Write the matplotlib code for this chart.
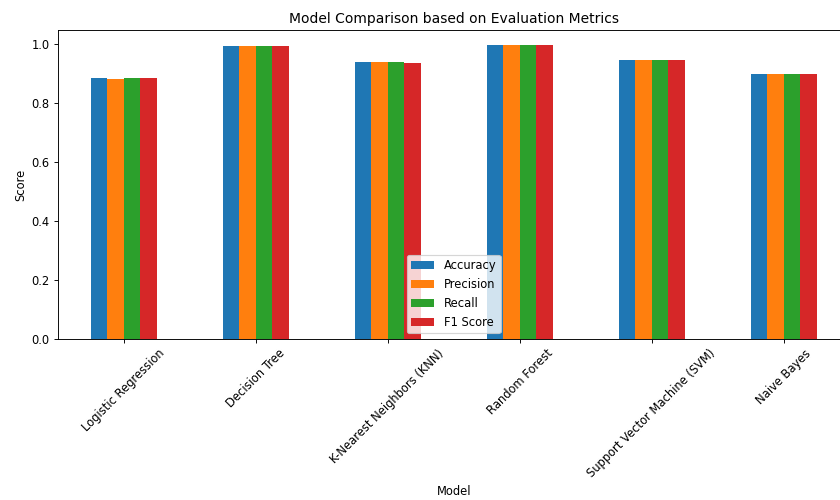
import matplotlib
matplotlib.use("Agg")
import matplotlib.pyplot as plt
import numpy as np
import pandas as pd

# Model scores
models = ["Logistic Regression", "Decision Tree", "K-Nearest Neighbors (KNN)",
          "Random Forest", "Support Vector Machine (SVM)", "Naive Bayes"]
accuracy = [0.884, 0.993, 0.937, 0.997, 0.945, 0.899]
precision = [0.882, 0.993, 0.937, 0.997, 0.945, 0.897]
recall = [0.884, 0.993, 0.937, 0.997, 0.945, 0.899]
f1_score = [0.883, 0.993, 0.935, 0.997, 0.945, 0.897]

df = pd.DataFrame({
    "Accuracy": accuracy,
    "Precision": precision,
    "Recall": recall,
    "F1 Score": f1_score,
}, index=pd.Index(models, name="Model"))

dpi = 83
fig = plt.figure(figsize=(840 / dpi, 500 / dpi), dpi=dpi)
# axes runs a little past the right edge, like the cropped original
ax = fig.add_axes([57.7 / 840, 1 - 339 / 500, 792 / 840, 309 / 500])

df.plot(kind="bar", ax=ax)
ax.set_title("Model Comparison based on Evaluation Metrics")
ax.set_xlabel("Model")
ax.set_ylabel("Score")
plt.setp(ax.get_xticklabels(), rotation=45)
ax.legend(loc="lower center")

fig.savefig("out.png", dpi=dpi)
